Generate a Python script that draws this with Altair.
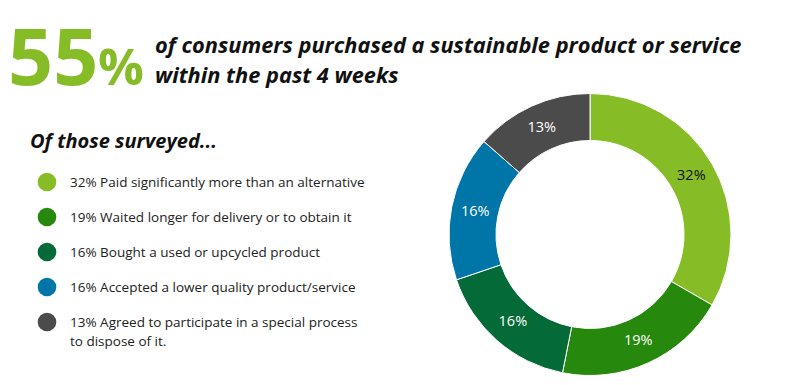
import altair as alt
import pandas as pd

categories = [
    "Paid significantly more than an alternative",
    "Waited longer for delivery or to obtain it",
    "Bought a used or upcycled product",
    "Accepted a lower quality product/service",
    "Agreed to participate in a special process\nto dispose of it.",
]
values = [32, 19, 16, 16, 13]
colors = ["#86BC25", "#26890D", "#046A38", "#0076A8", "#4B4B4B"]

headline_number = "55"
headline_text = ["of consumers purchased a sustainable product or service",
                 "within the past 4 weeks"]
subhead = "Of those surveyed..."

FONT = "Open Sans"

df = pd.DataFrame({
    "idx": list(range(len(categories))),
    "category": categories,
    "value": values,
})
df["pct"] = df["value"].astype(str) + "%"
df["legend"] = df["pct"] + " " + df["category"]

base = alt.Chart(df)

color = alt.Color("category:N", scale=alt.Scale(domain=categories, range=colors), legend=None)

cx, cy = 582, 226.5

arcs = base.mark_arc(outerRadius=141, innerRadius=94, stroke="white", strokeWidth=1).encode(
    theta=alt.Theta("value:Q", stack=True),
    order=alt.Order("idx:Q"),
    color=color,
    x=alt.value(cx),
    y=alt.value(cy),
)

arc_labels = base.mark_text(font=FONT, fontSize=14.5, radius=117).encode(
    theta=alt.Theta("value:Q", stack=True),
    order=alt.Order("idx:Q"),
    text="pct:N",
    color=alt.condition(alt.datum.idx == 0, alt.value("#111111"), alt.value("white")),
    x=alt.value(cx),
    y=alt.value(cy),
)

ypos = alt.Y("category:N", scale=alt.Scale(domain=categories, type="point", range=[174, 314], padding=0), axis=None)

legend_dots = base.mark_point(filled=True, shape="circle", size=346, opacity=1).encode(
    x=alt.value(39),
    y=ypos,
    color=color,
)

legend_text = base.mark_text(font=FONT, fontSize=13.5, align="left", baseline="alphabetic",
                             dy=5, lineBreak="\n", lineHeight=19, color="#222222").encode(
    x=alt.value(62),
    y=ypos,
    text="legend:N",
)

big = alt.Chart(pd.DataFrame({"t": [headline_number]})).mark_text(
    font=FONT, fontSize=79, fontWeight="bold", color="#86BC25", align="left", baseline="alphabetic"
).encode(x=alt.value(0), y=alt.value(77), text="t:N")

pct_sign = alt.Chart(pd.DataFrame({"t": ["%"]})).mark_text(
    font=FONT, fontSize=51, fontWeight="bold", color="#86BC25", align="left", baseline="alphabetic"
).encode(x=alt.value(90), y=alt.value(77), text="t:N")

head_df = pd.DataFrame({"t": headline_text, "line": [0, 1]})
head = alt.Chart(head_df).mark_text(
    font=FONT, fontSize=21.8, fontWeight="bold", fontStyle="italic", color="#111111",
    align="left", baseline="alphabetic"
).encode(
    x=alt.value(147),
    y=alt.Y("line:O", scale=alt.Scale(type="point", domain=[0, 1], range=[45, 75], padding=0), axis=None),
    text="t:N",
)

sub = alt.Chart(pd.DataFrame({"t": [subhead]})).mark_text(
    font=FONT, fontSize=20, fontWeight="bold", fontStyle="italic", color="#111111",
    align="left", baseline="alphabetic"
).encode(x=alt.value(22), y=alt.value(140), text="t:N")

chart = alt.layer(arcs, arc_labels, legend_dots, legend_text, big, pct_sign, head, sub).resolve_scale(
    y="independent"
).properties(
    width=784, height=369, autosize="none", padding=0
).configure_view(stroke=None)

chart.save("out.html", embed_options={"renderer": "svg", "actions": False})
